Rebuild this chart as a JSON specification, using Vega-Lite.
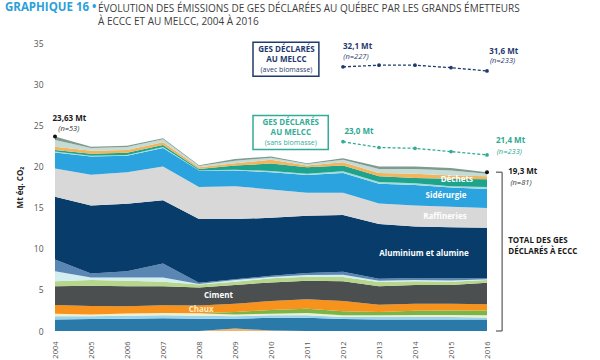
{
 "$schema": "https://vega.github.io/schema/vega-lite/v6.json",
 "autosize": {"type": "none"},
 "padding": {"left": 55, "top": 43, "right": 113, "bottom": 29},
 "width": 432,
 "height": 288,
 "background": "white",
 "title": {
  "text": ["ÉVOLUTION DES ÉMISSIONS DE GES DÉCLARÉES AU QUÉBEC PAR LES GRANDS ÉMETTEURS", "À ECCC ET AU MELCC, 2004 À 2016"],
  "anchor": "start", "frame": "group", "dx": 43, "dy": 25, "offset": 0,
  "font": "Open Sans", "fontSize": 10, "fontWeight": "normal", "color": "#3d3d3d", "lineHeight": 12.5
 },
 "datasets": {
  "secteurs": [
   {"annee":2004,"secteur":"Électricité","ordre":1,"valeur":0},
   {"annee":2004,"secteur":"Pâtes et papiers","ordre":2,"valeur":1.4},
   {"annee":2004,"secteur":"Chimie","ordre":3,"valeur":0.4},
   {"annee":2004,"secteur":"Pipelines","ordre":4,"valeur":0.3},
   {"annee":2004,"secteur":"Mines","ordre":5,"valeur":0},
   {"annee":2004,"secteur":"Chaux","ordre":6,"valeur":1.05},
   {"annee":2004,"secteur":"Ciment","ordre":7,"valeur":2.3},
   {"annee":2004,"secteur":"Agroalimentaire","ordre":8,"valeur":0.6},
   {"annee":2004,"secteur":"Fonderies","ordre":9,"valeur":1.22},
   {"annee":2004,"secteur":"Magnésium","ordre":10,"valeur":1.43},
   {"annee":2004,"secteur":"Aluminium et alumine","ordre":11,"valeur":7.6},
   {"annee":2004,"secteur":"Raffineries","ordre":12,"valeur":3.45},
   {"annee":2004,"secteur":"Sidérurgie","ordre":13,"valeur":1.95},
   {"annee":2004,"secteur":"Verre","ordre":14,"valeur":0.1},
   {"annee":2004,"secteur":"Déchets","ordre":15,"valeur":0.2},
   {"annee":2004,"secteur":"Chauffage","ordre":16,"valeur":0.4},
   {"annee":2004,"secteur":"Autres industries","ordre":17,"valeur":0.8},
   {"annee":2004,"secteur":"Autres","ordre":18,"valeur":0.43},

   {"annee":2005,"secteur":"Électricité","ordre":1,"valeur":0},
   {"annee":2005,"secteur":"Pâtes et papiers","ordre":2,"valeur":1.45},
   {"annee":2005,"secteur":"Chimie","ordre":3,"valeur":0.35},
   {"annee":2005,"secteur":"Pipelines","ordre":4,"valeur":0.2},
   {"annee":2005,"secteur":"Mines","ordre":5,"valeur":0},
   {"annee":2005,"secteur":"Chaux","ordre":6,"valeur":1.05},
   {"annee":2005,"secteur":"Ciment","ordre":7,"valeur":2.45},
   {"annee":2005,"secteur":"Agroalimentaire","ordre":8,"valeur":0.7},
   {"annee":2005,"secteur":"Fonderies","ordre":9,"valeur":0.3},
   {"annee":2005,"secteur":"Magnésium","ordre":10,"valeur":0.5},
   {"annee":2005,"secteur":"Aluminium et alumine","ordre":11,"valeur":8.25},
   {"annee":2005,"secteur":"Raffineries","ordre":12,"valeur":3.75},
   {"annee":2005,"secteur":"Sidérurgie","ordre":13,"valeur":2.2},
   {"annee":2005,"secteur":"Verre","ordre":14,"valeur":0.1},
   {"annee":2005,"secteur":"Déchets","ordre":15,"valeur":0.25},
   {"annee":2005,"secteur":"Chauffage","ordre":16,"valeur":0.35},
   {"annee":2005,"secteur":"Autres industries","ordre":17,"valeur":0.35},
   {"annee":2005,"secteur":"Autres","ordre":18,"valeur":0.15},

   {"annee":2006,"secteur":"Électricité","ordre":1,"valeur":0},
   {"annee":2006,"secteur":"Pâtes et papiers","ordre":2,"valeur":1.5},
   {"annee":2006,"secteur":"Chimie","ordre":3,"valeur":0.35},
   {"annee":2006,"secteur":"Pipelines","ordre":4,"valeur":0.28},
   {"annee":2006,"secteur":"Mines","ordre":5,"valeur":0},
   {"annee":2006,"secteur":"Chaux","ordre":6,"valeur":0.87},
   {"annee":2006,"secteur":"Ciment","ordre":7,"valeur":2.44},
   {"annee":2006,"secteur":"Agroalimentaire","ordre":8,"valeur":0.66},
   {"annee":2006,"secteur":"Fonderies","ordre":9,"valeur":0.4},
   {"annee":2006,"secteur":"Magnésium","ordre":10,"valeur":0.77},
   {"annee":2006,"secteur":"Aluminium et alumine","ordre":11,"valeur":8.18},
   {"annee":2006,"secteur":"Raffineries","ordre":12,"valeur":3.85},
   {"annee":2006,"secteur":"Sidérurgie","ordre":13,"valeur":2.0},
   {"annee":2006,"secteur":"Verre","ordre":14,"valeur":0.1},
   {"annee":2006,"secteur":"Déchets","ordre":15,"valeur":0.25},
   {"annee":2006,"secteur":"Chauffage","ordre":16,"valeur":0.35},
   {"annee":2006,"secteur":"Autres industries","ordre":17,"valeur":0.35},
   {"annee":2006,"secteur":"Autres","ordre":18,"valeur":0.15},

   {"annee":2007,"secteur":"Électricité","ordre":1,"valeur":0},
   {"annee":2007,"secteur":"Pâtes et papiers","ordre":2,"valeur":1.55},
   {"annee":2007,"secteur":"Chimie","ordre":3,"valeur":0.35},
   {"annee":2007,"secteur":"Pipelines","ordre":4,"valeur":0.3},
   {"annee":2007,"secteur":"Mines","ordre":5,"valeur":0},
   {"annee":2007,"secteur":"Chaux","ordre":6,"valeur":0.94},
   {"annee":2007,"secteur":"Ciment","ordre":7,"valeur":2.3},
   {"annee":2007,"secteur":"Agroalimentaire","ordre":8,"valeur":0.56},
   {"annee":2007,"secteur":"Fonderies","ordre":9,"valeur":0.5},
   {"annee":2007,"secteur":"Magnésium","ordre":10,"valeur":1.7},
   {"annee":2007,"secteur":"Aluminium et alumine","ordre":11,"valeur":7.7},
   {"annee":2007,"secteur":"Raffineries","ordre":12,"valeur":4.1},
   {"annee":2007,"secteur":"Sidérurgie","ordre":13,"valeur":2.25},
   {"annee":2007,"secteur":"Verre","ordre":14,"valeur":0.1},
   {"annee":2007,"secteur":"Déchets","ordre":15,"valeur":0.25},
   {"annee":2007,"secteur":"Chauffage","ordre":16,"valeur":0.35},
   {"annee":2007,"secteur":"Autres industries","ordre":17,"valeur":0.35},
   {"annee":2007,"secteur":"Autres","ordre":18,"valeur":0.13},

   {"annee":2008,"secteur":"Électricité","ordre":1,"valeur":0},
   {"annee":2008,"secteur":"Pâtes et papiers","ordre":2,"valeur":1.5},
   {"annee":2008,"secteur":"Chimie","ordre":3,"valeur":0.35},
   {"annee":2008,"secteur":"Pipelines","ordre":4,"valeur":0.3},
   {"annee":2008,"secteur":"Mines","ordre":5,"valeur":0},
   {"annee":2008,"secteur":"Chaux","ordre":6,"valeur":0.95},
   {"annee":2008,"secteur":"Ciment","ordre":7,"valeur":2.2},
   {"annee":2008,"secteur":"Agroalimentaire","ordre":8,"valeur":0.35},
   {"annee":2008,"secteur":"Fonderies","ordre":9,"valeur":0.05},
   {"annee":2008,"secteur":"Magnésium","ordre":10,"valeur":0.15},
   {"annee":2008,"secteur":"Aluminium et alumine","ordre":11,"valeur":7.75},
   {"annee":2008,"secteur":"Raffineries","ordre":12,"valeur":3.9},
   {"annee":2008,"secteur":"Sidérurgie","ordre":13,"valeur":2.0},
   {"annee":2008,"secteur":"Verre","ordre":14,"valeur":0.05},
   {"annee":2008,"secteur":"Déchets","ordre":15,"valeur":0.15},
   {"annee":2008,"secteur":"Chauffage","ordre":16,"valeur":0.2},
   {"annee":2008,"secteur":"Autres industries","ordre":17,"valeur":0.15},
   {"annee":2008,"secteur":"Autres","ordre":18,"valeur":0.1},

   {"annee":2009,"secteur":"Électricité","ordre":1,"valeur":0.3},
   {"annee":2009,"secteur":"Pâtes et papiers","ordre":2,"valeur":1.2},
   {"annee":2009,"secteur":"Chimie","ordre":3,"valeur":0.3},
   {"annee":2009,"secteur":"Pipelines","ordre":4,"valeur":0.2},
   {"annee":2009,"secteur":"Mines","ordre":5,"valeur":0.3},
   {"annee":2009,"secteur":"Chaux","ordre":6,"valeur":1.0},
   {"annee":2009,"secteur":"Ciment","ordre":7,"valeur":2.3},
   {"annee":2009,"secteur":"Agroalimentaire","ordre":8,"valeur":0.4},
   {"annee":2009,"secteur":"Fonderies","ordre":9,"valeur":0.2},
   {"annee":2009,"secteur":"Magnésium","ordre":10,"valeur":0.1},
   {"annee":2009,"secteur":"Aluminium et alumine","ordre":11,"valeur":7.3},
   {"annee":2009,"secteur":"Raffineries","ordre":12,"valeur":4.0},
   {"annee":2009,"secteur":"Sidérurgie","ordre":13,"valeur":1.9},
   {"annee":2009,"secteur":"Verre","ordre":14,"valeur":0.1},
   {"annee":2009,"secteur":"Déchets","ordre":15,"valeur":0.5},
   {"annee":2009,"secteur":"Chauffage","ordre":16,"valeur":0.3},
   {"annee":2009,"secteur":"Autres industries","ordre":17,"valeur":0.3},
   {"annee":2009,"secteur":"Autres","ordre":18,"valeur":0.2},

   {"annee":2010,"secteur":"Électricité","ordre":1,"valeur":0.05},
   {"annee":2010,"secteur":"Pâtes et papiers","ordre":2,"valeur":1.55},
   {"annee":2010,"secteur":"Chimie","ordre":3,"valeur":0.3},
   {"annee":2010,"secteur":"Pipelines","ordre":4,"valeur":0.2},
   {"annee":2010,"secteur":"Mines","ordre":5,"valeur":0.45},
   {"annee":2010,"secteur":"Chaux","ordre":6,"valeur":1.1},
   {"annee":2010,"secteur":"Ciment","ordre":7,"valeur":2.25},
   {"annee":2010,"secteur":"Agroalimentaire","ordre":8,"valeur":0.5},
   {"annee":2010,"secteur":"Fonderies","ordre":9,"valeur":0.15},
   {"annee":2010,"secteur":"Magnésium","ordre":10,"valeur":0.15},
   {"annee":2010,"secteur":"Aluminium et alumine","ordre":11,"valeur":7.05},
   {"annee":2010,"secteur":"Raffineries","ordre":12,"valeur":3.45},
   {"annee":2010,"secteur":"Sidérurgie","ordre":13,"valeur":2.1},
   {"annee":2010,"secteur":"Verre","ordre":14,"valeur":0.15},
   {"annee":2010,"secteur":"Déchets","ordre":15,"valeur":0.9},
   {"annee":2010,"secteur":"Chauffage","ordre":16,"valeur":0.45},
   {"annee":2010,"secteur":"Autres industries","ordre":17,"valeur":0.25},
   {"annee":2010,"secteur":"Autres","ordre":18,"valeur":0.15},

   {"annee":2011,"secteur":"Électricité","ordre":1,"valeur":0},
   {"annee":2011,"secteur":"Pâtes et papiers","ordre":2,"valeur":1.6},
   {"annee":2011,"secteur":"Chimie","ordre":3,"valeur":0.3},
   {"annee":2011,"secteur":"Pipelines","ordre":4,"valeur":0.3},
   {"annee":2011,"secteur":"Mines","ordre":5,"valeur":0.5},
   {"annee":2011,"secteur":"Chaux","ordre":6,"valeur":1.15},
   {"annee":2011,"secteur":"Ciment","ordre":7,"valeur":2.25},
   {"annee":2011,"secteur":"Agroalimentaire","ordre":8,"valeur":0.5},
   {"annee":2011,"secteur":"Fonderies","ordre":9,"valeur":0.2},
   {"annee":2011,"secteur":"Magnésium","ordre":10,"valeur":0.25},
   {"annee":2011,"secteur":"Aluminium et alumine","ordre":11,"valeur":6.95},
   {"annee":2011,"secteur":"Raffineries","ordre":12,"valeur":2.8},
   {"annee":2011,"secteur":"Sidérurgie","ordre":13,"valeur":2.15},
   {"annee":2011,"secteur":"Verre","ordre":14,"valeur":0.15},
   {"annee":2011,"secteur":"Déchets","ordre":15,"valeur":0.8},
   {"annee":2011,"secteur":"Chauffage","ordre":16,"valeur":0.2},
   {"annee":2011,"secteur":"Autres industries","ordre":17,"valeur":0.2},
   {"annee":2011,"secteur":"Autres","ordre":18,"valeur":0.1},

   {"annee":2012,"secteur":"Électricité","ordre":1,"valeur":0},
   {"annee":2012,"secteur":"Pâtes et papiers","ordre":2,"valeur":1.45},
   {"annee":2012,"secteur":"Chimie","ordre":3,"valeur":0.25},
   {"annee":2012,"secteur":"Pipelines","ordre":4,"valeur":0.2},
   {"annee":2012,"secteur":"Mines","ordre":5,"valeur":0.5},
   {"annee":2012,"secteur":"Chaux","ordre":6,"valeur":1.25},
   {"annee":2012,"secteur":"Ciment","ordre":7,"valeur":2.4},
   {"annee":2012,"secteur":"Agroalimentaire","ordre":8,"valeur":0.5},
   {"annee":2012,"secteur":"Fonderies","ordre":9,"valeur":0.3},
   {"annee":2012,"secteur":"Magnésium","ordre":10,"valeur":0.35},
   {"annee":2012,"secteur":"Aluminium et alumine","ordre":11,"valeur":6.9},
   {"annee":2012,"secteur":"Raffineries","ordre":12,"valeur":2.7},
   {"annee":2012,"secteur":"Sidérurgie","ordre":13,"valeur":2.4},
   {"annee":2012,"secteur":"Verre","ordre":14,"valeur":0.2},
   {"annee":2012,"secteur":"Déchets","ordre":15,"valeur":0.7},
   {"annee":2012,"secteur":"Chauffage","ordre":16,"valeur":0.4},
   {"annee":2012,"secteur":"Autres industries","ordre":17,"valeur":0.3},
   {"annee":2012,"secteur":"Autres","ordre":18,"valeur":0.2},

   {"annee":2013,"secteur":"Électricité","ordre":1,"valeur":0},
   {"annee":2013,"secteur":"Pâtes et papiers","ordre":2,"valeur":1.4},
   {"annee":2013,"secteur":"Chimie","ordre":3,"valeur":0.3},
   {"annee":2013,"secteur":"Pipelines","ordre":4,"valeur":0.2},
   {"annee":2013,"secteur":"Mines","ordre":5,"valeur":0.4},
   {"annee":2013,"secteur":"Chaux","ordre":6,"valeur":0.9},
   {"annee":2013,"secteur":"Ciment","ordre":7,"valeur":2.25},
   {"annee":2013,"secteur":"Agroalimentaire","ordre":8,"valeur":0.5},
   {"annee":2013,"secteur":"Fonderies","ordre":9,"valeur":0.15},
   {"annee":2013,"secteur":"Magnésium","ordre":10,"valeur":0.25},
   {"annee":2013,"secteur":"Aluminium et alumine","ordre":11,"valeur":6.65},
   {"annee":2013,"secteur":"Raffineries","ordre":12,"valeur":2.5},
   {"annee":2013,"secteur":"Sidérurgie","ordre":13,"valeur":2.4},
   {"annee":2013,"secteur":"Verre","ordre":14,"valeur":0.2},
   {"annee":2013,"secteur":"Déchets","ordre":15,"valeur":0.7},
   {"annee":2013,"secteur":"Chauffage","ordre":16,"valeur":0.4},
   {"annee":2013,"secteur":"Autres industries","ordre":17,"valeur":0.5},
   {"annee":2013,"secteur":"Autres","ordre":18,"valeur":0.3},

   {"annee":2014,"secteur":"Électricité","ordre":1,"valeur":0},
   {"annee":2014,"secteur":"Pâtes et papiers","ordre":2,"valeur":1.4},
   {"annee":2014,"secteur":"Chimie","ordre":3,"valeur":0.3},
   {"annee":2014,"secteur":"Pipelines","ordre":4,"valeur":0.25},
   {"annee":2014,"secteur":"Mines","ordre":5,"valeur":0.5},
   {"annee":2014,"secteur":"Chaux","ordre":6,"valeur":0.85},
   {"annee":2014,"secteur":"Ciment","ordre":7,"valeur":2.3},
   {"annee":2014,"secteur":"Agroalimentaire","ordre":8,"valeur":0.45},
   {"annee":2014,"secteur":"Fonderies","ordre":9,"valeur":0.15},
   {"annee":2014,"secteur":"Magnésium","ordre":10,"valeur":0.25},
   {"annee":2014,"secteur":"Aluminium et alumine","ordre":11,"valeur":6.25},
   {"annee":2014,"secteur":"Raffineries","ordre":12,"valeur":2.55},
   {"annee":2014,"secteur":"Sidérurgie","ordre":13,"valeur":2.5},
   {"annee":2014,"secteur":"Verre","ordre":14,"valeur":0.2},
   {"annee":2014,"secteur":"Déchets","ordre":15,"valeur":0.65},
   {"annee":2014,"secteur":"Chauffage","ordre":16,"valeur":0.5},
   {"annee":2014,"secteur":"Autres industries","ordre":17,"valeur":0.6},
   {"annee":2014,"secteur":"Autres","ordre":18,"valeur":0.3},

   {"annee":2015,"secteur":"Électricité","ordre":1,"valeur":0},
   {"annee":2015,"secteur":"Pâtes et papiers","ordre":2,"valeur":1.4},
   {"annee":2015,"secteur":"Chimie","ordre":3,"valeur":0.3},
   {"annee":2015,"secteur":"Pipelines","ordre":4,"valeur":0.25},
   {"annee":2015,"secteur":"Mines","ordre":5,"valeur":0.55},
   {"annee":2015,"secteur":"Chaux","ordre":6,"valeur":0.8},
   {"annee":2015,"secteur":"Ciment","ordre":7,"valeur":2.3},
   {"annee":2015,"secteur":"Agroalimentaire","ordre":8,"valeur":0.4},
   {"annee":2015,"secteur":"Fonderies","ordre":9,"valeur":0.15},
   {"annee":2015,"secteur":"Magnésium","ordre":10,"valeur":0.25},
   {"annee":2015,"secteur":"Aluminium et alumine","ordre":11,"valeur":6.2},
   {"annee":2015,"secteur":"Raffineries","ordre":12,"valeur":2.5},
   {"annee":2015,"secteur":"Sidérurgie","ordre":13,"valeur":2.35},
   {"annee":2015,"secteur":"Verre","ordre":14,"valeur":0.15},
   {"annee":2015,"secteur":"Déchets","ordre":15,"valeur":0.9},
   {"annee":2015,"secteur":"Chauffage","ordre":16,"valeur":0.4},
   {"annee":2015,"secteur":"Autres industries","ordre":17,"valeur":0.6},
   {"annee":2015,"secteur":"Autres","ordre":18,"valeur":0.3},

   {"annee":2016,"secteur":"Électricité","ordre":1,"valeur":0},
   {"annee":2016,"secteur":"Pâtes et papiers","ordre":2,"valeur":1.4},
   {"annee":2016,"secteur":"Chimie","ordre":3,"valeur":0.25},
   {"annee":2016,"secteur":"Pipelines","ordre":4,"valeur":0.25},
   {"annee":2016,"secteur":"Mines","ordre":5,"valeur":0.6},
   {"annee":2016,"secteur":"Chaux","ordre":6,"valeur":0.75},
   {"annee":2016,"secteur":"Ciment","ordre":7,"valeur":2.6},
   {"annee":2016,"secteur":"Agroalimentaire","ordre":8,"valeur":0.35},
   {"annee":2016,"secteur":"Fonderies","ordre":9,"valeur":0.1},
   {"annee":2016,"secteur":"Magnésium","ordre":10,"valeur":0.15},
   {"annee":2016,"secteur":"Aluminium et alumine","ordre":11,"valeur":6.1},
   {"annee":2016,"secteur":"Raffineries","ordre":12,"valeur":2.4},
   {"annee":2016,"secteur":"Sidérurgie","ordre":13,"valeur":2.3},
   {"annee":2016,"secteur":"Verre","ordre":14,"valeur":0.25},
   {"annee":2016,"secteur":"Déchets","ordre":15,"valeur":0.95},
   {"annee":2016,"secteur":"Chauffage","ordre":16,"valeur":0.35},
   {"annee":2016,"secteur":"Autres industries","ordre":17,"valeur":0.3},
   {"annee":2016,"secteur":"Autres","ordre":18,"valeur":0.2}
  ],
  "melcc": [
   {"serie":"avec biomasse","annee":2012,"valeur":32.1},
   {"serie":"avec biomasse","annee":2013,"valeur":32.3},
   {"serie":"avec biomasse","annee":2014,"valeur":32.3},
   {"serie":"avec biomasse","annee":2015,"valeur":32.0},
   {"serie":"avec biomasse","annee":2016,"valeur":31.6},
   {"serie":"sans biomasse","annee":2012,"valeur":23.0},
   {"serie":"sans biomasse","annee":2013,"valeur":22.3},
   {"serie":"sans biomasse","annee":2014,"valeur":22.2},
   {"serie":"sans biomasse","annee":2015,"valeur":21.8},
   {"serie":"sans biomasse","annee":2016,"valeur":21.4}
  ],
  "total": [
   {"annee":2004,"valeur":23.63},
   {"annee":2016,"valeur":19.3}
  ],
  "annotations": [
   {"groupe":"titre","annee":2002.61,"valeur":39.3,"texte":"GRAPHIQUE 16 •"},
   {"groupe":"total","annee":2003.93,"valeur":25.8,"texte":"23,63 Mt"},
   {"groupe":"total","annee":2016.59,"valeur":19.28,"texte":"19,3 Mt"},
   {"groupe":"total","annee":2016.59,"valeur":10.9,"texte":"TOTAL DES GES"},
   {"groupe":"total","annee":2016.59,"valeur":9.62,"texte":"DÉCLARÉS À ECCC"},
   {"groupe":"total_n","annee":2004.09,"valeur":24.5,"texte":"(n=53)"},
   {"groupe":"total_n","annee":2016.65,"valeur":18.04,"texte":"(n=81)"},
   {"groupe":"avec","annee":2012.0,"valeur":34.53,"texte":"32,1 Mt"},
   {"groupe":"avec","annee":2016.06,"valeur":33.88,"texte":"31,6 Mt"},
   {"groupe":"avec_n","annee":2012.01,"valeur":33.26,"texte":"(n=227)"},
   {"groupe":"avec_n","annee":2016.08,"valeur":32.77,"texte":"(n=233)"},
   {"groupe":"sans","annee":2012.04,"valeur":24.24,"texte":"23,0 Mt"},
   {"groupe":"sans","annee":2016.25,"valeur":23.03,"texte":"21,4 Mt"},
   {"groupe":"sans_n","annee":2016.27,"valeur":21.81,"texte":"(n=233)"},
   {"groupe":"secteur","annee":2015.16,"valeur":18.32,"texte":"Déchets"},
   {"groupe":"secteur","annee":2014.86,"valeur":16.35,"texte":"Sidérurgie"},
   {"groupe":"secteur","annee":2014.83,"valeur":13.85,"texte":"Raffineries"},
   {"groupe":"secteur","annee":2014.25,"valeur":9.35,"texte":"Aluminium et alumine"},
   {"groupe":"secteur","annee":2008.54,"valeur":4.29,"texte":"Ciment"},
   {"groupe":"chaux","annee":2008.06,"valeur":2.61,"texte":"Chaux"},
   {"groupe":"leg_avec","annee":2010.43,"valeur":34.15,"texte":"GES DÉCLARÉS"},
   {"groupe":"leg_avec","annee":2010.43,"valeur":32.9,"texte":"AU MELCC"},
   {"groupe":"leg_avec_note","annee":2010.43,"valeur":31.72,"texte":"(avec biomasse)"},
   {"groupe":"leg_sans","annee":2010.55,"valeur":25.3,"texte":"GES DÉCLARÉS"},
   {"groupe":"leg_sans","annee":2010.55,"valeur":24.05,"texte":"AU MELCC"},
   {"groupe":"leg_sans_note","annee":2010.55,"valeur":22.85,"texte":"(sans biomasse)"}
  ]
 },
 "encoding": {
  "x": {"field": "annee", "type": "quantitative",
        "scale": {"domain": [2004, 2016], "nice": false, "zero": false},
        "axis": {"values": [2004,2005,2006,2007,2008,2009,2010,2011,2012,2013,2014,2015,2016], "format": "d",
                 "labelAngle": -90, "ticks": false, "domain": false, "grid": false, "labelPadding": 10,
                 "labelFontSize": 7.5, "labelColor": "#555555", "labelFont": "Open Sans", "title": null}},
  "y": {"field": "valeur", "type": "quantitative",
        "scale": {"domain": [0, 35], "nice": false},
        "axis": {"values": [0,5,10,15,20,25,30,35], "ticks": false, "domain": false, "grid": false,
                 "labelPadding": 12, "labelFontSize": 8.5, "labelColor": "#555555", "labelFont": "Open Sans",
                 "title": "Mt éq. CO₂", "titleFont": "Open Sans", "titleFontSize": 8, "titleFontWeight": "bold",
                 "titleColor": "#222222", "titlePadding": 9}}
 },
 "layer": [
  {"data": {"name": "secteurs"},
   "mark": {"type": "area", "interpolate": "linear"},
   "encoding": {
    "color": {"field": "secteur", "type": "nominal", "legend": null,
              "scale": {"domain": ["Électricité","Pâtes et papiers","Chimie","Pipelines","Mines","Chaux","Ciment","Agroalimentaire","Fonderies","Magnésium","Aluminium et alumine","Raffineries","Sidérurgie","Verre","Déchets","Chauffage","Autres industries","Autres"],
                        "range": ["#f6b26b","#2a7aa9","#9ad3ea","#eef0cf","#7ab547","#f7931d","#4b4f50","#b5d68b","#d3eef1","#5a86b3","#083c6b","#d8d8d8","#2aa3df","#a5dbd7","#1ea38d","#f2b45c","#c5dcd6","#7f9b8d"]}},
    "order": {"field": "ordre", "type": "quantitative"}
   }},
  {"data": {"name": "total"},
   "transform": [{"filter": "datum.annee === 2016"}],
   "mark": {"type": "rule", "color": "#5a5a5a", "strokeWidth": 1.2},
   "encoding": {"x": {"datum": 2016.42}, "y": {"field": "valeur", "type": "quantitative"}, "y2": {"datum": 0}}},
  {"data": {"name": "total"},
   "transform": [{"filter": "datum.annee === 2016"}],
   "mark": {"type": "rule", "color": "#5a5a5a", "strokeWidth": 1.2},
   "encoding": {"x": {"datum": 2016.25}, "x2": {"datum": 2016.42}, "y": {"field": "valeur", "type": "quantitative"}}},
  {"data": {"name": "total"},
   "transform": [{"filter": "datum.annee === 2016"}],
   "mark": {"type": "rule", "color": "#5a5a5a", "strokeWidth": 1.2},
   "encoding": {"x": {"datum": 2016.25}, "x2": {"datum": 2016.42}, "y": {"datum": 0}}},
  {"data": {"name": "melcc"},
   "transform": [{"filter": "datum.serie === 'avec biomasse'"}],
   "mark": {"type": "line", "color": "#1f3b6e", "strokeDash": [3, 2], "strokeWidth": 1.3},
   "encoding": {}},
  {"data": {"name": "melcc"},
   "transform": [{"filter": "datum.serie === 'avec biomasse'"}],
   "mark": {"type": "point", "filled": true, "color": "#1f3b6e", "size": 14, "opacity": 1},
   "encoding": {}},
  {"data": {"name": "melcc"},
   "transform": [{"filter": "datum.serie === 'sans biomasse'"}],
   "mark": {"type": "line", "color": "#33ab96", "strokeDash": [3, 2], "strokeWidth": 1.3},
   "encoding": {}},
  {"data": {"name": "melcc"},
   "transform": [{"filter": "datum.serie === 'sans biomasse'"}],
   "mark": {"type": "point", "filled": true, "color": "#33ab96", "size": 14, "opacity": 1},
   "encoding": {}},
  {"data": {"name": "total"},
   "mark": {"type": "point", "filled": true, "color": "#111111", "size": 16, "opacity": 1},
   "encoding": {}},
  {"data": {"name": "melcc"},
   "transform": [{"filter": "datum.serie === 'avec biomasse' && datum.annee === 2012"}],
   "mark": {"type": "rect", "fill": "white", "stroke": "#1f3b6e", "strokeWidth": 1.5},
   "encoding": {"x": {"datum": 2009.5}, "x2": {"datum": 2011.33}, "y": {"datum": 35.09}, "y2": {"datum": 30.96}}},
  {"data": {"name": "melcc"},
   "transform": [{"filter": "datum.serie === 'sans biomasse' && datum.annee === 2012"}],
   "mark": {"type": "rect", "fill": "white", "stroke": "#33ab96", "strokeWidth": 1.5},
   "encoding": {"x": {"datum": 2009.5}, "x2": {"datum": 2011.59}, "y": {"datum": 26.18}, "y2": {"datum": 22.05}}},
  {"data": {"name": "annotations"}, "transform": [{"filter": "datum.groupe === 'titre'"}],
   "mark": {"type": "text", "align": "left", "baseline": "middle", "font": "Open Sans", "fontSize": 11.5, "fontWeight": "bold", "color": "#2ba0da"},
   "encoding": {"text": {"field": "texte"}}},
  {"data": {"name": "annotations"}, "transform": [{"filter": "datum.groupe === 'total'"}],
   "mark": {"type": "text", "align": "left", "baseline": "middle", "font": "Open Sans", "fontSize": 8, "fontWeight": "bold", "color": "#1a1a1a"},
   "encoding": {"text": {"field": "texte"}}},
  {"data": {"name": "annotations"}, "transform": [{"filter": "datum.groupe === 'total_n'"}],
   "mark": {"type": "text", "align": "left", "baseline": "middle", "font": "Open Sans", "fontSize": 7.5, "fontStyle": "italic", "color": "#333333"},
   "encoding": {"text": {"field": "texte"}}},
  {"data": {"name": "annotations"}, "transform": [{"filter": "datum.groupe === 'avec'"}],
   "mark": {"type": "text", "align": "left", "baseline": "middle", "font": "Open Sans", "fontSize": 8, "fontWeight": "bold", "color": "#1f3b6e"},
   "encoding": {"text": {"field": "texte"}}},
  {"data": {"name": "annotations"}, "transform": [{"filter": "datum.groupe === 'avec_n'"}],
   "mark": {"type": "text", "align": "left", "baseline": "middle", "font": "Open Sans", "fontSize": 7.5, "fontStyle": "italic", "color": "#1f3b6e"},
   "encoding": {"text": {"field": "texte"}}},
  {"data": {"name": "annotations"}, "transform": [{"filter": "datum.groupe === 'sans'"}],
   "mark": {"type": "text", "align": "left", "baseline": "middle", "font": "Open Sans", "fontSize": 8, "fontWeight": "bold", "color": "#2fa893"},
   "encoding": {"text": {"field": "texte"}}},
  {"data": {"name": "annotations"}, "transform": [{"filter": "datum.groupe === 'sans_n'"}],
   "mark": {"type": "text", "align": "left", "baseline": "middle", "font": "Open Sans", "fontSize": 7.5, "fontStyle": "italic", "color": "#2fa893"},
   "encoding": {"text": {"field": "texte"}}},
  {"data": {"name": "annotations"}, "transform": [{"filter": "datum.groupe === 'secteur'"}],
   "mark": {"type": "text", "align": "center", "baseline": "middle", "font": "Open Sans", "fontSize": 8, "fontWeight": "bold", "color": "#ffffff"},
   "encoding": {"text": {"field": "texte"}}},
  {"data": {"name": "annotations"}, "transform": [{"filter": "datum.groupe === 'chaux'"}],
   "mark": {"type": "text", "align": "center", "baseline": "middle", "font": "Open Sans", "fontSize": 8, "fontWeight": "bold", "color": "#ffeccc"},
   "encoding": {"text": {"field": "texte"}}},
  {"data": {"name": "annotations"}, "transform": [{"filter": "datum.groupe === 'leg_avec'"}],
   "mark": {"type": "text", "align": "center", "baseline": "middle", "font": "Open Sans", "fontSize": 8, "fontWeight": "bold", "color": "#1f3b6e"},
   "encoding": {"text": {"field": "texte"}}},
  {"data": {"name": "annotations"}, "transform": [{"filter": "datum.groupe === 'leg_avec_note'"}],
   "mark": {"type": "text", "align": "center", "baseline": "middle", "font": "Open Sans", "fontSize": 7, "color": "#1f3b6e"},
   "encoding": {"text": {"field": "texte"}}},
  {"data": {"name": "annotations"}, "transform": [{"filter": "datum.groupe === 'leg_sans'"}],
   "mark": {"type": "text", "align": "center", "baseline": "middle", "font": "Open Sans", "fontSize": 8, "fontWeight": "bold", "color": "#36ad98"},
   "encoding": {"text": {"field": "texte"}}},
  {"data": {"name": "annotations"}, "transform": [{"filter": "datum.groupe === 'leg_sans_note'"}],
   "mark": {"type": "text", "align": "center", "baseline": "middle", "font": "Open Sans", "fontSize": 7, "color": "#36ad98"},
   "encoding": {"text": {"field": "texte"}}}
 ],
 "config": {
  "view": {"stroke": null},
  "font": "Open Sans"
 }
}
